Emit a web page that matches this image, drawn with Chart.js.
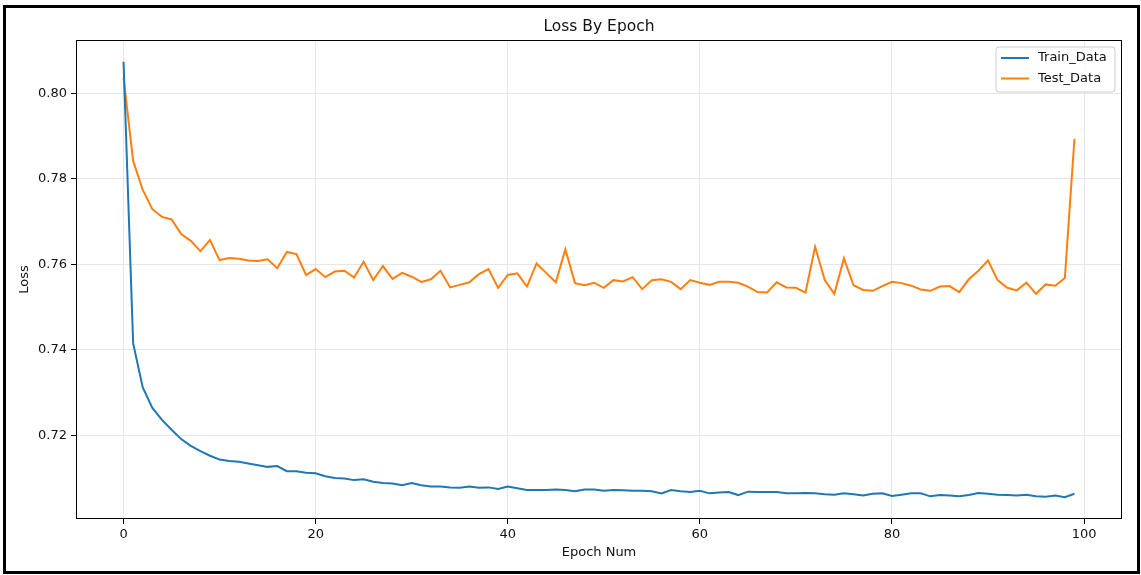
<!DOCTYPE html>
<html>
<head>
<meta charset="utf-8">
<script src="https://cdn.jsdelivr.net/npm/chart.js@4/dist/chart.umd.min.js"></script>
<style>
  html, body { margin: 0; padding: 0; background: #fff; }
  #wrap { position: relative; width: 1141px; height: 575px; overflow: hidden; }
  #frame { position: absolute; left: 3px; top: 5px; width: 1137px; height: 569px; box-sizing: border-box; border: 3px solid #000; pointer-events: none; }
  canvas { position: absolute; left: 0; top: 0; }
</style>
</head>
<body>
<div id="wrap">
  <canvas id="c" width="1141" height="575"></canvas>
  <div id="frame"></div>
</div>
<script>
const chartTitle = "Loss By Epoch";
const xAxisTitle = "Epoch Num";
const yAxisTitle = "Loss";
const seriesNames = ["Train_Data", "Test_Data"];
const seriesColors = ["#1f77b4", "#ff7f0e"];

const epochs = [0,1,2,3,4,5,6,7,8,9,10,11,12,13,14,15,16,17,18,19,20,21,22,23,24,25,26,27,28,29,30,31,32,33,34,35,36,37,38,39,40,41,42,43,44,45,46,47,48,49,50,51,52,53,54,55,56,57,58,59,60,61,62,63,64,65,66,67,68,69,70,71,72,73,74,75,76,77,78,79,80,81,82,83,84,85,86,87,88,89,90,91,92,93,94,95,96,97,98,99];

const trainLoss = [0.8074,0.7415,0.7312,0.7264,0.7236,0.7213,0.7191,0.7175,0.7163,0.7152,0.7143,0.7140,0.7138,0.7134,0.7130,0.7126,0.7128,0.7116,0.7116,0.7112,
  0.7111,0.7104,0.7100,0.7099,0.7095,0.7097,0.7091,0.7088,0.7087,0.7083,
  0.7088,0.7083,0.7080,0.7080,0.7078,0.7077,0.7080,0.7077,0.7078,0.7074,
  0.7080,0.7076,0.7072,0.7072,0.7072,0.7073,0.7072,0.7069,0.7073,0.7073,
  0.7070,0.7072,0.7071,0.7070,0.7070,0.7069,0.7064,0.7072,0.7069,0.7067,
  0.7070,0.7064,0.7066,0.7067,0.7060,0.7068,0.7067,0.7067,0.7067,0.7064,
  0.7064,0.7065,0.7064,0.7062,0.7061,0.7064,0.7062,0.7059,0.7063,0.7064,
  0.7058,0.7061,0.7064,0.7064,0.7057,0.7060,0.7059,0.7057,0.7060,0.7065,
  0.7063,0.7061,0.7060,0.7059,0.7061,0.7057,0.7056,0.7059,0.7055,0.7063];

const testLoss = [0.8037,0.7842,0.7774,0.7729,0.7711,0.7705,0.7671,0.7655,0.7631,0.7657,
  0.7610,0.7615,0.7613,0.7609,0.7608,0.7612,0.7591,0.7629,0.7624,0.7575,
  0.7589,0.7570,0.7583,0.7585,0.7569,0.7606,0.7563,0.7596,0.7566,0.7580,
  0.7571,0.7559,0.7565,0.7585,0.7546,0.7552,0.7558,0.7577,0.7589,0.7545,
  0.7575,0.7579,0.7548,0.7602,0.7580,0.7558,0.7635,0.7556,0.7551,0.7557,
  0.7545,0.7563,0.7560,0.7570,0.7542,0.7563,0.7565,0.7559,0.7542,0.7563,
  0.7557,0.7552,0.7559,0.7559,0.7557,0.7548,0.7535,0.7534,0.7558,0.7546,
  0.7545,0.7534,0.7641,0.7563,0.7531,0.7614,0.7551,0.7540,0.7538,0.7549,
  0.7559,0.7556,0.7550,0.7541,0.7538,0.7548,0.7549,0.7535,0.7565,0.7585,
  0.7609,0.7563,0.7545,0.7539,0.7557,0.7531,0.7553,0.7550,0.7568,0.7894];

const xTickValues = [0, 20, 40, 60, 80, 100];
const yTickValues = [0.72, 0.74, 0.76, 0.78, 0.80];

const FONT = "'DejaVu Sans', 'Liberation Sans', sans-serif";
const TEXT = "#111";

const decorPlugin = {
  id: 'decor',
  afterDraw(chart) {
    const ctx = chart.ctx;
    const a = chart.chartArea;
    ctx.save();
    // axes box
    ctx.strokeStyle = "#000";
    ctx.lineWidth = 1;
    ctx.strokeRect(Math.round(a.left) + 0.5, Math.round(a.top) + 0.5, Math.round(a.right - a.left) - 1, Math.round(a.bottom - a.top) - 1);
    // title
    ctx.fillStyle = TEXT;
    ctx.font = "15.5px " + FONT;
    ctx.textAlign = "center";
    ctx.textBaseline = "middle";
    ctx.fillText(chartTitle, (a.left + a.right) / 2, 27);
    // legend
    const bx = a.right - 126, by = a.top + 7, bw = 119, bh = 45, r = 3;
    ctx.beginPath();
    ctx.moveTo(bx + r, by);
    ctx.lineTo(bx + bw - r, by);
    ctx.quadraticCurveTo(bx + bw, by, bx + bw, by + r);
    ctx.lineTo(bx + bw, by + bh - r);
    ctx.quadraticCurveTo(bx + bw, by + bh, bx + bw - r, by + bh);
    ctx.lineTo(bx + r, by + bh);
    ctx.quadraticCurveTo(bx, by + bh, bx, by + bh - r);
    ctx.lineTo(bx, by + r);
    ctx.quadraticCurveTo(bx, by, bx + r, by);
    ctx.closePath();
    ctx.fillStyle = "rgba(255,255,255,0.8)";
    ctx.fill();
    ctx.strokeStyle = "#cccccc";
    ctx.lineWidth = 1;
    ctx.stroke();
    ctx.font = "13px " + FONT;
    ctx.textAlign = "left";
    ctx.textBaseline = "middle";
    chart.data.datasets.forEach((ds, i) => {
      const yy = by + 11 + i * 20.5;
      ctx.strokeStyle = ds.borderColor;
      ctx.lineWidth = 2;
      ctx.beginPath();
      ctx.moveTo(bx + 5, yy);
      ctx.lineTo(bx + 33, yy);
      ctx.stroke();
      ctx.fillStyle = TEXT;
      ctx.fillText(ds.label, bx + 42, yy);
    });
    ctx.restore();
  }
};

new Chart(document.getElementById('c'), {
  type: 'line',
  data: {
    datasets: [
      { label: seriesNames[0], data: epochs.map((e, i) => ({ x: e, y: trainLoss[i] })), borderColor: seriesColors[0], backgroundColor: seriesColors[0], borderWidth: 2, pointRadius: 0, tension: 0, fill: false },
      { label: seriesNames[1], data: epochs.map((e, i) => ({ x: e, y: testLoss[i] })), borderColor: seriesColors[1], backgroundColor: seriesColors[1], borderWidth: 2, pointRadius: 0, tension: 0, fill: false }
    ]
  },
  options: {
    responsive: false,
    animation: false,
    devicePixelRatio: 1,
    layout: { padding: { top: 40, right: 19, left: 0, bottom: 0 } },
    plugins: { legend: { display: false }, title: { display: false }, tooltip: { enabled: false } },
    scales: {
      x: {
        type: 'linear',
        min: -4.95, max: 103.95,
        afterBuildTicks: s => { s.ticks = xTickValues.map(v => ({ value: v })); },
        afterFit: s => { s.height = 56; },
        grid: { color: '#e6e6e6', lineWidth: 1, tickColor: '#000', tickLength: 5, drawTicks: true },
        border: { display: false },
        ticks: { color: TEXT, font: { family: FONT, size: 13 }, padding: 3, maxRotation: 0, callback: v => String(v) },
        title: { display: true, text: xAxisTitle, color: TEXT, font: { family: FONT, size: 13 }, padding: { top: 0, bottom: 15 } }
      },
      y: {
        type: 'linear',
        min: 0.7004, max: 0.8125,
        afterBuildTicks: s => { s.ticks = yTickValues.map(v => ({ value: v })); },
        afterFit: s => { s.width = 76; },
        grid: { color: '#e6e6e6', lineWidth: 1, tickColor: '#000', tickLength: 5, drawTicks: true },
        border: { display: false },
        ticks: { color: TEXT, font: { family: FONT, size: 13 }, padding: 4, callback: v => Number(v).toFixed(2) },
        title: { display: true, text: yAxisTitle, color: TEXT, font: { family: FONT, size: 13 }, padding: { top: 17, bottom: 0 } }
      }
    }
  },
  plugins: [decorPlugin]
});
</script>
</body>
</html>
